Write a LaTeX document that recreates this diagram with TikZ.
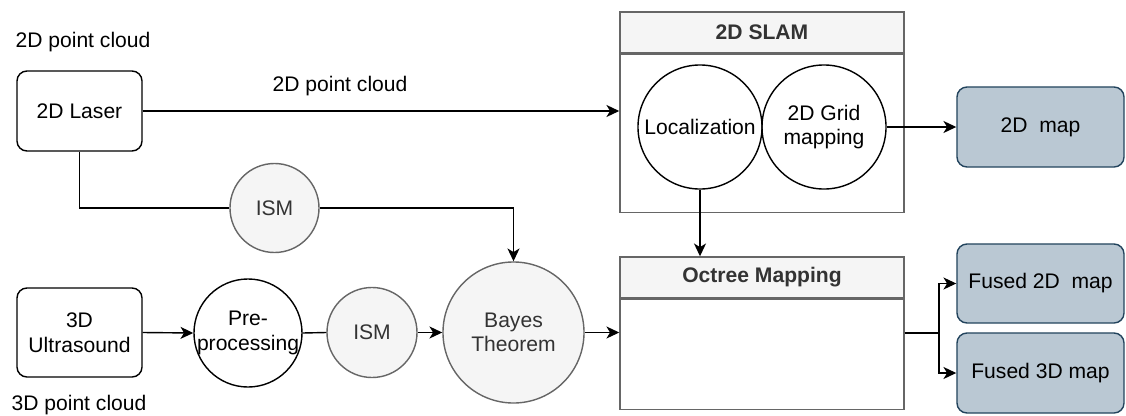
\documentclass[tikz,border=0pt]{standalone}
\usepackage{fontspec}
\setmainfont{Liberation Sans}
\usetikzlibrary{arrows.meta}

\definecolor{softgray}{HTML}{F5F5F5}
\definecolor{edgegray}{HTML}{666666}
\definecolor{inkgray}{HTML}{333333}
\definecolor{mapfill}{HTML}{BAC8D3}
\definecolor{mapedge}{HTML}{23445D}

\tikzset{
  every node/.style={font=\fontsize{15}{17.5}\selectfont},
  sensor/.style={draw, line width=1pt, rounded corners=0.25cm, minimum width=3.125cm, align=center},
  bubble/.style={circle, draw, line width=1pt, inner sep=0pt, minimum size=#1, align=center},
  graybubble/.style={bubble=#1, draw=edgegray, fill=softgray, text=inkgray},
  mapbox/.style={draw=mapedge, fill=mapfill, line width=1pt, rounded corners=0.25cm, minimum width=4.175cm, minimum height=2cm},
  header/.style={draw=edgegray, fill=softgray, line width=1pt, minimum width=7.1cm, minimum height=1.025cm, font=\fontsize{15}{17.5}\selectfont\bfseries, text=inkgray},
  panel/.style={draw=edgegray, line width=1pt, minimum width=7.1cm, inner sep=0pt, anchor=north},
  flow/.style={line width=1pt, -{Stealth[length=0.32cm, width=0.3cm, inset=0.09cm]}}
}

\begin{document}
\begin{tikzpicture}[x=0.025cm, y=-0.025cm]
\useasboundingbox (0,0) rectangle (1126,415);

% sensors
\node (cloud2d) at (83,42) {2D point cloud};
\node[sensor, minimum height=2cm] (laser) at (79.5,111) {2D Laser};
\node[sensor, minimum height=2.225cm] (sonar) at (79.5,332.5) {3D\\Ultrasound};
\node (cloud3d) at (79,405) {3D point cloud};

% fusion chain
\node[graybubble=2.225cm] (ismtop) at (274.5,208) {ISM};
\node[bubble=2.7cm] (prep) at (248,333) {\makebox[0pt]{Pre-}\\\makebox[0pt]{processing}};
\node[graybubble=2.25cm] (ismlow) at (372,332.5) {ISM};
\node[graybubble=3.525cm] (bayes) at (513.5,332.5) {Bayes\\Theorem};

% 2D SLAM block
\node[header] (slamhead) at (762,32.5) {2D SLAM};
\node[panel, minimum height=3.95cm] (slam) at (slamhead.south) {};
\node[bubble=3.1cm] (loc) at (700,127) {Localization};
\node[bubble=3.1cm] (grid) at (824,127) {2D Grid\\mapping};
\node (cloudlbl) at (340,86) {2D point cloud};

% octree block
\node[header] (octhead) at (762,277.5) {Octree Mapping};
\node[panel, minimum height=2.75cm] (octree) at (octhead.south) {};

% outputs
\node[mapbox] (map2d) at (1040.5,127) {2D\ \ map};
\node[mapbox, minimum height=1.975cm] (fused2d) at (1040.5,283.5) {Fused 2D\ \ map};
\node[mapbox] (fused3d) at (1040.5,373) {Fused 3D map};

\coordinate (split) at (939,333);

\draw[flow] (laser.east) -- (laser.east -| slam.west);
\draw[line width=1pt] (laser.south) |- (ismtop.west);
\draw[flow] (ismtop.east) -| (bayes.north);
\draw[flow] (sonar.east) -- (prep.west);
\draw[line width=1pt] (prep.east) -- (ismlow.west);
\draw[flow] (ismlow.east) -- (bayes.west);
\draw[flow] (bayes.east) -- (bayes.east -| octree.west);
\draw[flow] (loc.south) -- (octhead.north -| loc.south);
\draw[flow] (grid.east) -- (map2d.west);
\draw[line width=1pt] (split -| octree.east) -- (split);
\draw[flow] (split) |- (fused2d.west);
\draw[flow] (split) |- (fused3d.west);
\end{tikzpicture}
\end{document}
